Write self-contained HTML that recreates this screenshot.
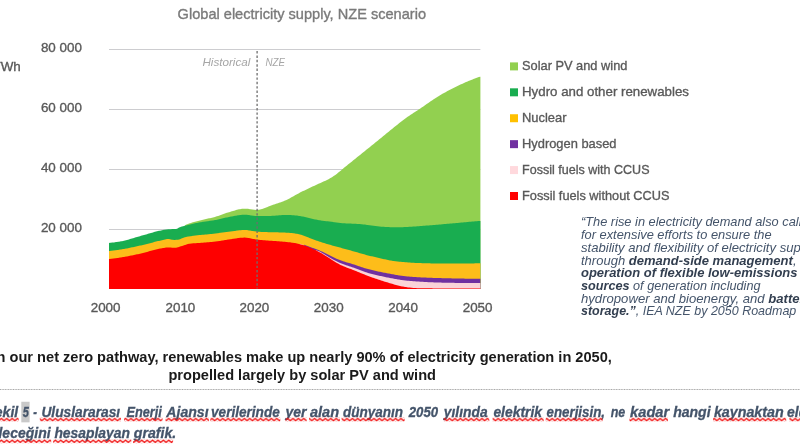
<!DOCTYPE html>
<html><head><meta charset="utf-8">
<style>
html,body{margin:0;padding:0;background:#fff;width:800px;height:445px;overflow:hidden;}
svg{display:block;filter:blur(0.55px);}
text{font-family:"Liberation Sans",sans-serif;}
</style></head>
<body>
<svg width="800" height="445" viewBox="0 0 800 445">
<defs>
<pattern id="wave" x="0" y="417.5" width="5.4" height="4" patternUnits="userSpaceOnUse">
<path d="M-1.35,3.2 L1.35,0.9 L4.05,3.2 L6.75,0.9" fill="none" stroke="#f01010" stroke-width="1.4"/>
</pattern>
<pattern id="wave2" x="0" y="439.25" width="5.4" height="4" patternUnits="userSpaceOnUse">
<path d="M-1.35,3.2 L1.35,0.9 L4.05,3.2 L6.75,0.9" fill="none" stroke="#f01010" stroke-width="1.4"/>
</pattern>
</defs>
<!-- title -->
<text x="177.6" y="19.2" font-size="14.5" fill="#7a7a7a" stroke="#7a7a7a" stroke-width="0.35" textLength="248.4" lengthAdjust="spacingAndGlyphs">Global electricity supply, NZE scenario</text>
<!-- y axis labels -->
<g font-size="13.4" fill="#595959" stroke="#595959" stroke-width="0.35" text-anchor="end">
<text x="81.9" y="52.3">80 000</text>
<text x="81.9" y="112.2">60 000</text>
<text x="81.9" y="172.2">40 000</text>
<text x="81.9" y="232.1">20 000</text>
</g>
<text x="-7.5" y="71.1" font-size="13.4" fill="#595959" stroke="#595959" stroke-width="0.35">TWh</text>
<!-- grid -->
<g stroke="#cdcdd0" stroke-width="1">
<line x1="109" y1="49.5" x2="480.4" y2="49.5"/>
<line x1="109" y1="109.5" x2="480.4" y2="109.5"/>
<line x1="109" y1="169.5" x2="480.4" y2="169.5"/>
<line x1="109" y1="229.5" x2="480.4" y2="229.5"/>
</g>
<path d="M109.0,244.40 L110.0,244.32 L111.0,244.22 L112.0,244.12 L113.0,244.01 L114.0,243.89 L115.0,243.76 L116.0,243.62 L117.0,243.47 L118.0,243.32 L119.0,243.16 L120.0,243.00 L121.0,242.82 L122.0,242.63 L123.0,242.42 L124.0,242.19 L125.0,241.95 L126.0,241.70 L127.0,241.43 L128.0,241.16 L129.0,240.88 L130.0,240.59 L131.0,240.29 L132.0,240.00 L133.0,239.69 L134.0,239.39 L135.0,239.09 L136.0,238.79 L137.0,238.49 L138.0,238.20 L139.0,237.92 L140.0,237.64 L141.0,237.36 L142.0,237.09 L143.0,236.80 L144.0,236.51 L145.0,236.22 L146.0,235.93 L147.0,235.63 L148.0,235.33 L149.0,235.04 L150.0,234.74 L151.0,234.45 L152.0,234.16 L153.0,233.88 L154.0,233.60 L155.0,233.33 L156.0,233.07 L157.0,232.82 L158.0,232.58 L159.0,232.36 L160.0,232.14 L161.0,231.94 L162.0,231.74 L163.0,231.54 L164.0,231.35 L165.0,231.18 L166.0,231.02 L167.0,230.90 L168.0,230.80 L169.0,230.73 L170.0,230.69 L171.0,230.65 L172.0,230.62 L173.0,230.59 L174.0,230.55 L175.0,230.48 L176.0,230.40 L177.0,230.13 L178.0,229.63 L179.0,229.10 L180.0,228.70 L181.0,228.37 L182.0,228.07 L183.0,227.79 L184.0,227.52 L185.0,225.27 L186.0,224.77 L187.0,224.31 L188.0,223.93 L189.0,223.58 L190.0,223.24 L191.0,222.92 L192.0,222.60 L193.0,222.30 L194.0,222.00 L195.0,221.72 L196.0,221.44 L197.0,221.17 L198.0,220.91 L199.0,220.65 L200.0,220.40 L201.0,220.15 L202.0,219.91 L203.0,219.68 L204.0,219.45 L205.0,219.23 L206.0,219.01 L207.0,218.79 L208.0,218.58 L209.0,218.36 L210.0,218.13 L211.0,217.91 L212.0,217.67 L213.0,217.42 L214.0,217.17 L215.0,216.90 L216.0,216.61 L217.0,216.30 L218.0,215.98 L219.0,215.63 L220.0,215.28 L221.0,214.92 L222.0,214.55 L223.0,214.19 L224.0,213.82 L225.0,213.47 L226.0,213.12 L227.0,212.78 L228.0,212.46 L229.0,212.16 L230.0,211.88 L231.0,211.59 L232.0,211.29 L233.0,210.99 L234.0,210.69 L235.0,210.39 L236.0,210.10 L237.0,209.82 L238.0,209.57 L239.0,209.33 L240.0,209.13 L241.0,208.96 L242.0,208.82 L243.0,208.73 L244.0,208.68 L245.0,208.66 L246.0,208.69 L247.0,208.76 L248.0,208.87 L249.0,209.01 L250.0,209.16 L251.0,209.31 L252.0,209.47 L253.0,209.62 L254.0,209.74 L255.0,209.84 L256.0,209.89 L257.0,209.90 L258.0,209.86 L259.0,209.72 L260.0,209.51 L261.0,209.25 L262.0,209.00 L263.0,208.72 L264.0,208.37 L265.0,207.98 L266.0,207.57 L267.0,207.14 L268.0,206.72 L269.0,206.31 L270.0,205.92 L271.0,205.55 L272.0,205.19 L273.0,204.85 L274.0,204.51 L275.0,204.18 L276.0,203.84 L277.0,203.51 L278.0,203.18 L279.0,202.84 L280.0,202.50 L281.0,202.14 L282.0,201.77 L283.0,201.39 L284.0,200.99 L285.0,200.57 L286.0,200.13 L287.0,199.66 L288.0,199.17 L289.0,198.66 L290.0,198.13 L291.0,197.58 L292.0,197.03 L293.0,196.46 L294.0,195.90 L295.0,195.33 L296.0,194.77 L297.0,194.21 L298.0,193.67 L299.0,193.13 L300.0,192.61 L301.0,192.11 L302.0,191.61 L303.0,191.12 L304.0,190.63 L305.0,190.15 L306.0,189.67 L307.0,189.19 L308.0,188.71 L309.0,188.24 L310.0,187.77 L311.0,187.30 L312.0,186.82 L313.0,186.35 L314.0,185.88 L315.0,185.41 L316.0,184.94 L317.0,184.48 L318.0,184.03 L319.0,183.58 L320.0,183.14 L321.0,182.70 L322.0,182.26 L323.0,181.82 L324.0,181.37 L325.0,180.91 L326.0,180.43 L327.0,179.95 L328.0,179.44 L329.0,178.92 L330.0,178.37 L331.0,177.80 L332.0,177.19 L333.0,176.55 L334.0,175.87 L335.0,175.16 L336.0,174.42 L337.0,173.65 L338.0,172.85 L339.0,172.04 L340.0,171.22 L341.0,170.38 L342.0,169.54 L343.0,168.70 L344.0,167.87 L345.0,167.04 L346.0,166.22 L347.0,165.41 L348.0,164.61 L349.0,163.81 L350.0,163.01 L351.0,162.20 L352.0,161.40 L353.0,160.60 L354.0,159.79 L355.0,158.98 L356.0,158.18 L357.0,157.37 L358.0,156.56 L359.0,155.75 L360.0,154.94 L361.0,154.13 L362.0,153.33 L363.0,152.52 L364.0,151.71 L365.0,150.91 L366.0,150.10 L367.0,149.30 L368.0,148.49 L369.0,147.68 L370.0,146.88 L371.0,146.07 L372.0,145.26 L373.0,144.46 L374.0,143.65 L375.0,142.84 L376.0,142.03 L377.0,141.22 L378.0,140.41 L379.0,139.60 L380.0,138.78 L381.0,137.96 L382.0,137.14 L383.0,136.32 L384.0,135.50 L385.0,134.67 L386.0,133.85 L387.0,133.03 L388.0,132.20 L389.0,131.38 L390.0,130.57 L391.0,129.75 L392.0,128.95 L393.0,128.14 L394.0,127.34 L395.0,126.55 L396.0,125.75 L397.0,124.96 L398.0,124.16 L399.0,123.37 L400.0,122.59 L401.0,121.81 L402.0,121.04 L403.0,120.27 L404.0,119.51 L405.0,118.77 L406.0,118.04 L407.0,117.32 L408.0,116.61 L409.0,115.92 L410.0,115.23 L411.0,114.56 L412.0,113.90 L413.0,113.24 L414.0,112.59 L415.0,111.94 L416.0,111.29 L417.0,110.64 L418.0,109.98 L419.0,109.32 L420.0,108.66 L421.0,107.99 L422.0,107.31 L423.0,106.63 L424.0,105.95 L425.0,105.26 L426.0,104.57 L427.0,103.87 L428.0,103.18 L429.0,102.49 L430.0,101.81 L431.0,101.12 L432.0,100.44 L433.0,99.77 L434.0,99.10 L435.0,98.44 L436.0,97.79 L437.0,97.15 L438.0,96.52 L439.0,95.90 L440.0,95.30 L441.0,94.70 L442.0,94.12 L443.0,93.55 L444.0,92.99 L445.0,92.43 L446.0,91.88 L447.0,91.33 L448.0,90.79 L449.0,90.26 L450.0,89.73 L451.0,89.21 L452.0,88.70 L453.0,88.19 L454.0,87.69 L455.0,87.19 L456.0,86.70 L457.0,86.21 L458.0,85.73 L459.0,85.26 L460.0,84.79 L461.0,84.33 L462.0,83.88 L463.0,83.43 L464.0,82.99 L465.0,82.55 L466.0,82.11 L467.0,81.69 L468.0,81.27 L469.0,80.85 L470.0,80.44 L471.0,80.03 L472.0,79.63 L473.0,79.24 L474.0,78.85 L475.0,78.47 L476.0,78.09 L477.0,77.72 L478.0,77.37 L479.0,77.05 L480.0,76.79 L480.4,76.63 L480.4,289.0 L109.0,289.0Z" fill="#92d050"/>
<path d="M109.0,242.90 L110.0,242.82 L111.0,242.72 L112.0,242.62 L113.0,242.51 L114.0,242.39 L115.0,242.26 L116.0,242.12 L117.0,241.97 L118.0,241.82 L119.0,241.66 L120.0,241.50 L121.0,241.32 L122.0,241.13 L123.0,240.92 L124.0,240.69 L125.0,240.45 L126.0,240.20 L127.0,239.93 L128.0,239.66 L129.0,239.38 L130.0,239.09 L131.0,238.79 L132.0,238.50 L133.0,238.19 L134.0,237.89 L135.0,237.59 L136.0,237.29 L137.0,236.99 L138.0,236.70 L139.0,236.42 L140.0,236.14 L141.0,235.86 L142.0,235.59 L143.0,235.30 L144.0,235.01 L145.0,234.72 L146.0,234.43 L147.0,234.13 L148.0,233.83 L149.0,233.54 L150.0,233.24 L151.0,232.95 L152.0,232.66 L153.0,232.38 L154.0,232.10 L155.0,231.83 L156.0,231.57 L157.0,231.32 L158.0,231.08 L159.0,230.86 L160.0,230.64 L161.0,230.44 L162.0,230.24 L163.0,230.04 L164.0,229.85 L165.0,229.68 L166.0,229.52 L167.0,229.40 L168.0,229.30 L169.0,229.23 L170.0,229.19 L171.0,229.15 L172.0,229.12 L173.0,229.09 L174.0,229.05 L175.0,228.98 L176.0,228.90 L177.0,228.63 L178.0,228.13 L179.0,227.60 L180.0,227.20 L181.0,226.87 L182.0,226.57 L183.0,226.29 L184.0,226.02 L185.0,225.76 L186.0,225.50 L187.0,225.24 L188.0,224.99 L189.0,224.74 L190.0,224.49 L191.0,224.24 L192.0,224.00 L193.0,223.76 L194.0,223.53 L195.0,223.31 L196.0,223.09 L197.0,222.88 L198.0,222.68 L199.0,222.48 L200.0,222.30 L201.0,222.13 L202.0,221.96 L203.0,221.81 L204.0,221.67 L205.0,221.53 L206.0,221.39 L207.0,221.26 L208.0,221.13 L209.0,221.00 L210.0,220.86 L211.0,220.72 L212.0,220.58 L213.0,220.43 L214.0,220.27 L215.0,220.10 L216.0,219.92 L217.0,219.72 L218.0,219.50 L219.0,219.28 L220.0,219.05 L221.0,218.81 L222.0,218.57 L223.0,218.32 L224.0,218.08 L225.0,217.85 L226.0,217.61 L227.0,217.39 L228.0,217.18 L229.0,216.98 L230.0,216.80 L231.0,216.62 L232.0,216.43 L233.0,216.24 L234.0,216.05 L235.0,215.85 L236.0,215.67 L237.0,215.49 L238.0,215.32 L239.0,215.16 L240.0,215.02 L241.0,214.90 L242.0,214.81 L243.0,214.74 L244.0,214.71 L245.0,214.70 L246.0,214.75 L247.0,214.83 L248.0,214.95 L249.0,215.09 L250.0,215.25 L251.0,215.42 L252.0,215.58 L253.0,215.74 L254.0,215.87 L255.0,215.99 L256.0,216.06 L257.0,216.10 L258.0,216.10 L259.0,216.10 L260.0,216.09 L261.0,216.09 L262.0,216.08 L263.0,216.08 L264.0,216.07 L265.0,216.06 L266.0,216.04 L267.0,216.03 L268.0,216.01 L269.0,215.98 L270.0,215.95 L271.0,215.91 L272.0,215.85 L273.0,215.78 L274.0,215.70 L275.0,215.63 L276.0,215.55 L277.0,215.47 L278.0,215.38 L279.0,215.30 L280.0,215.22 L281.0,215.14 L282.0,215.08 L283.0,215.02 L284.0,214.98 L285.0,214.95 L286.0,214.93 L287.0,214.93 L288.0,214.95 L289.0,214.98 L290.0,215.02 L291.0,215.07 L292.0,215.14 L293.0,215.21 L294.0,215.30 L295.0,215.39 L296.0,215.50 L297.0,215.61 L298.0,215.74 L299.0,215.88 L300.0,216.03 L301.0,216.20 L302.0,216.38 L303.0,216.57 L304.0,216.78 L305.0,217.00 L306.0,217.23 L307.0,217.46 L308.0,217.70 L309.0,217.95 L310.0,218.19 L311.0,218.44 L312.0,218.69 L313.0,218.93 L314.0,219.16 L315.0,219.39 L316.0,219.61 L317.0,219.82 L318.0,220.02 L319.0,220.20 L320.0,220.37 L321.0,220.53 L322.0,220.67 L323.0,220.80 L324.0,220.91 L325.0,221.03 L326.0,221.13 L327.0,221.24 L328.0,221.35 L329.0,221.46 L330.0,221.58 L331.0,221.71 L332.0,221.84 L333.0,221.99 L334.0,222.13 L335.0,222.28 L336.0,222.43 L337.0,222.57 L338.0,222.71 L339.0,222.84 L340.0,222.95 L341.0,223.06 L342.0,223.15 L343.0,223.22 L344.0,223.29 L345.0,223.35 L346.0,223.40 L347.0,223.44 L348.0,223.49 L349.0,223.53 L350.0,223.57 L351.0,223.61 L352.0,223.65 L353.0,223.70 L354.0,223.74 L355.0,223.79 L356.0,223.84 L357.0,223.90 L358.0,223.96 L359.0,224.03 L360.0,224.11 L361.0,224.19 L362.0,224.29 L363.0,224.39 L364.0,224.50 L365.0,224.62 L366.0,224.75 L367.0,224.88 L368.0,225.02 L369.0,225.15 L370.0,225.29 L371.0,225.43 L372.0,225.57 L373.0,225.71 L374.0,225.84 L375.0,225.97 L376.0,226.10 L377.0,226.22 L378.0,226.33 L379.0,226.44 L380.0,226.54 L381.0,226.63 L382.0,226.71 L383.0,226.79 L384.0,226.86 L385.0,226.93 L386.0,226.99 L387.0,227.04 L388.0,227.08 L389.0,227.12 L390.0,227.15 L391.0,227.18 L392.0,227.21 L393.0,227.22 L394.0,227.24 L395.0,227.25 L396.0,227.26 L397.0,227.26 L398.0,227.26 L399.0,227.25 L400.0,227.24 L401.0,227.22 L402.0,227.19 L403.0,227.16 L404.0,227.12 L405.0,227.08 L406.0,227.03 L407.0,226.98 L408.0,226.92 L409.0,226.86 L410.0,226.80 L411.0,226.73 L412.0,226.67 L413.0,226.60 L414.0,226.53 L415.0,226.46 L416.0,226.39 L417.0,226.32 L418.0,226.25 L419.0,226.17 L420.0,226.09 L421.0,226.02 L422.0,225.94 L423.0,225.86 L424.0,225.78 L425.0,225.70 L426.0,225.62 L427.0,225.54 L428.0,225.46 L429.0,225.38 L430.0,225.30 L431.0,225.22 L432.0,225.14 L433.0,225.05 L434.0,224.97 L435.0,224.89 L436.0,224.80 L437.0,224.72 L438.0,224.64 L439.0,224.55 L440.0,224.47 L441.0,224.38 L442.0,224.30 L443.0,224.21 L444.0,224.12 L445.0,224.03 L446.0,223.95 L447.0,223.86 L448.0,223.77 L449.0,223.68 L450.0,223.59 L451.0,223.51 L452.0,223.42 L453.0,223.33 L454.0,223.24 L455.0,223.15 L456.0,223.06 L457.0,222.97 L458.0,222.88 L459.0,222.79 L460.0,222.70 L461.0,222.61 L462.0,222.52 L463.0,222.43 L464.0,222.33 L465.0,222.24 L466.0,222.15 L467.0,222.06 L468.0,221.97 L469.0,221.87 L470.0,221.78 L471.0,221.69 L472.0,221.60 L473.0,221.51 L474.0,221.42 L475.0,221.33 L476.0,221.24 L477.0,221.16 L478.0,221.09 L479.0,221.03 L480.0,220.97 L480.4,220.93 L480.4,289.0 L109.0,289.0Z" fill="#19ad50"/>
<path d="M109.0,251.00 L110.0,250.90 L111.0,250.79 L112.0,250.67 L113.0,250.56 L114.0,250.43 L115.0,250.30 L116.0,250.17 L117.0,250.04 L118.0,249.90 L119.0,249.75 L120.0,249.60 L121.0,249.44 L122.0,249.28 L123.0,249.11 L124.0,248.94 L125.0,248.76 L126.0,248.57 L127.0,248.38 L128.0,248.18 L129.0,247.98 L130.0,247.78 L131.0,247.57 L132.0,247.36 L133.0,247.15 L134.0,246.93 L135.0,246.71 L136.0,246.50 L137.0,246.27 L138.0,246.05 L139.0,245.83 L140.0,245.61 L141.0,245.39 L142.0,245.16 L143.0,244.92 L144.0,244.68 L145.0,244.44 L146.0,244.19 L147.0,243.93 L148.0,243.68 L149.0,243.42 L150.0,243.16 L151.0,242.90 L152.0,242.64 L153.0,242.38 L154.0,242.12 L155.0,241.86 L156.0,241.61 L157.0,241.37 L158.0,241.12 L159.0,240.89 L160.0,240.66 L161.0,240.43 L162.0,240.18 L163.0,239.91 L164.0,239.64 L165.0,239.39 L166.0,239.19 L167.0,239.05 L168.0,239.00 L169.0,239.06 L170.0,239.21 L171.0,239.42 L172.0,239.63 L173.0,239.80 L174.0,239.89 L175.0,239.89 L176.0,239.85 L177.0,239.80 L178.0,239.68 L179.0,239.45 L180.0,239.13 L181.0,238.76 L182.0,238.36 L183.0,237.96 L184.0,237.58 L185.0,237.25 L186.0,237.00 L187.0,236.80 L188.0,236.62 L189.0,236.45 L190.0,236.28 L191.0,236.13 L192.0,235.98 L193.0,235.84 L194.0,235.71 L195.0,235.58 L196.0,235.45 L197.0,235.34 L198.0,235.22 L199.0,235.11 L200.0,235.00 L201.0,234.90 L202.0,234.80 L203.0,234.71 L204.0,234.63 L205.0,234.54 L206.0,234.46 L207.0,234.38 L208.0,234.29 L209.0,234.20 L210.0,234.10 L211.0,233.99 L212.0,233.88 L213.0,233.77 L214.0,233.65 L215.0,233.52 L216.0,233.40 L217.0,233.27 L218.0,233.13 L219.0,233.00 L220.0,232.86 L221.0,232.73 L222.0,232.59 L223.0,232.46 L224.0,232.32 L225.0,232.19 L226.0,232.06 L227.0,231.93 L228.0,231.80 L229.0,231.68 L230.0,231.56 L231.0,231.44 L232.0,231.31 L233.0,231.18 L234.0,231.04 L235.0,230.90 L236.0,230.76 L237.0,230.62 L238.0,230.49 L239.0,230.37 L240.0,230.26 L241.0,230.16 L242.0,230.09 L243.0,230.04 L244.0,230.01 L245.0,230.00 L246.0,230.04 L247.0,230.12 L248.0,230.24 L249.0,230.38 L250.0,230.53 L251.0,230.70 L252.0,230.88 L253.0,231.05 L254.0,231.22 L255.0,231.37 L256.0,231.50 L257.0,231.60 L258.0,231.68 L259.0,231.76 L260.0,231.84 L261.0,231.90 L262.0,231.96 L263.0,232.00 L264.0,232.03 L265.0,232.06 L266.0,232.09 L267.0,232.11 L268.0,232.14 L269.0,232.16 L270.0,232.18 L271.0,232.20 L272.0,232.22 L273.0,232.24 L274.0,232.27 L275.0,232.29 L276.0,232.31 L277.0,232.33 L278.0,232.36 L279.0,232.39 L280.0,232.41 L281.0,232.44 L282.0,232.48 L283.0,232.51 L284.0,232.55 L285.0,232.59 L286.0,232.64 L287.0,232.69 L288.0,232.75 L289.0,232.82 L290.0,232.90 L291.0,233.00 L292.0,233.10 L293.0,233.22 L294.0,233.36 L295.0,233.51 L296.0,233.68 L297.0,233.87 L298.0,234.08 L299.0,234.30 L300.0,234.55 L301.0,234.82 L302.0,235.11 L303.0,235.43 L304.0,235.77 L305.0,236.13 L306.0,236.52 L307.0,236.91 L308.0,237.32 L309.0,237.73 L310.0,238.14 L311.0,238.55 L312.0,238.94 L313.0,239.33 L314.0,239.70 L315.0,240.06 L316.0,240.42 L317.0,240.76 L318.0,241.10 L319.0,241.43 L320.0,241.76 L321.0,242.08 L322.0,242.40 L323.0,242.71 L324.0,243.03 L325.0,243.33 L326.0,243.64 L327.0,243.94 L328.0,244.24 L329.0,244.53 L330.0,244.83 L331.0,245.11 L332.0,245.40 L333.0,245.68 L334.0,245.96 L335.0,246.24 L336.0,246.51 L337.0,246.79 L338.0,247.06 L339.0,247.33 L340.0,247.60 L341.0,247.87 L342.0,248.15 L343.0,248.42 L344.0,248.69 L345.0,248.96 L346.0,249.24 L347.0,249.51 L348.0,249.79 L349.0,250.06 L350.0,250.34 L351.0,250.62 L352.0,250.90 L353.0,251.18 L354.0,251.47 L355.0,251.75 L356.0,252.04 L357.0,252.33 L358.0,252.62 L359.0,252.91 L360.0,253.21 L361.0,253.49 L362.0,253.78 L363.0,254.06 L364.0,254.34 L365.0,254.61 L366.0,254.88 L367.0,255.14 L368.0,255.40 L369.0,255.65 L370.0,255.90 L371.0,256.14 L372.0,256.37 L373.0,256.60 L374.0,256.84 L375.0,257.06 L376.0,257.29 L377.0,257.52 L378.0,257.75 L379.0,257.98 L380.0,258.21 L381.0,258.45 L382.0,258.68 L383.0,258.91 L384.0,259.15 L385.0,259.37 L386.0,259.59 L387.0,259.81 L388.0,260.01 L389.0,260.21 L390.0,260.39 L391.0,260.57 L392.0,260.73 L393.0,260.88 L394.0,261.02 L395.0,261.16 L396.0,261.29 L397.0,261.41 L398.0,261.53 L399.0,261.64 L400.0,261.74 L401.0,261.84 L402.0,261.94 L403.0,262.03 L404.0,262.12 L405.0,262.21 L406.0,262.29 L407.0,262.37 L408.0,262.45 L409.0,262.52 L410.0,262.59 L411.0,262.66 L412.0,262.72 L413.0,262.78 L414.0,262.83 L415.0,262.88 L416.0,262.93 L417.0,262.97 L418.0,263.02 L419.0,263.05 L420.0,263.09 L421.0,263.12 L422.0,263.16 L423.0,263.19 L424.0,263.22 L425.0,263.25 L426.0,263.27 L427.0,263.30 L428.0,263.32 L429.0,263.35 L430.0,263.37 L431.0,263.39 L432.0,263.41 L433.0,263.42 L434.0,263.44 L435.0,263.45 L436.0,263.46 L437.0,263.47 L438.0,263.48 L439.0,263.49 L440.0,263.49 L441.0,263.49 L442.0,263.50 L443.0,263.50 L444.0,263.50 L445.0,263.50 L446.0,263.50 L447.0,263.50 L448.0,263.50 L449.0,263.50 L450.0,263.50 L451.0,263.49 L452.0,263.49 L453.0,263.49 L454.0,263.49 L455.0,263.49 L456.0,263.49 L457.0,263.48 L458.0,263.48 L459.0,263.48 L460.0,263.47 L461.0,263.47 L462.0,263.46 L463.0,263.46 L464.0,263.45 L465.0,263.45 L466.0,263.44 L467.0,263.44 L468.0,263.43 L469.0,263.42 L470.0,263.41 L471.0,263.41 L472.0,263.40 L473.0,263.39 L474.0,263.38 L475.0,263.37 L476.0,263.36 L477.0,263.35 L478.0,263.34 L479.0,263.33 L480.0,263.32 L480.4,263.32 L480.4,289.0 L109.0,289.0Z" fill="#fdbd1a"/>
<path d="M109.0,260.60 L110.0,260.48 L111.0,260.36 L112.0,260.24 L113.0,260.11 L114.0,259.98 L115.0,259.84 L116.0,259.70 L117.0,259.56 L118.0,259.41 L119.0,259.26 L120.0,259.10 L121.0,258.94 L122.0,258.78 L123.0,258.61 L124.0,258.43 L125.0,258.25 L126.0,258.07 L127.0,257.89 L128.0,257.70 L129.0,257.51 L130.0,257.31 L131.0,257.11 L132.0,256.91 L133.0,256.70 L134.0,256.50 L135.0,256.29 L136.0,256.08 L137.0,255.86 L138.0,255.65 L139.0,255.43 L140.0,255.21 L141.0,254.99 L142.0,254.75 L143.0,254.51 L144.0,254.25 L145.0,253.99 L146.0,253.72 L147.0,253.44 L148.0,253.16 L149.0,252.87 L150.0,252.59 L151.0,252.31 L152.0,252.03 L153.0,251.76 L154.0,251.49 L155.0,251.23 L156.0,250.98 L157.0,250.75 L158.0,250.52 L159.0,250.32 L160.0,250.12 L161.0,249.95 L162.0,249.77 L163.0,249.58 L164.0,249.40 L165.0,249.24 L166.0,249.12 L167.0,249.03 L168.0,249.00 L169.0,249.02 L170.0,249.06 L171.0,249.12 L172.0,249.18 L173.0,249.24 L174.0,249.28 L175.0,249.30 L176.0,249.23 L177.0,249.03 L178.0,248.75 L179.0,248.42 L180.0,248.07 L181.0,247.74 L182.0,247.46 L183.0,247.16 L184.0,246.84 L185.0,246.51 L186.0,246.18 L187.0,245.87 L188.0,245.59 L189.0,245.35 L190.0,245.17 L191.0,245.04 L192.0,244.94 L193.0,244.86 L194.0,244.79 L195.0,244.72 L196.0,244.66 L197.0,244.60 L198.0,244.54 L199.0,244.47 L200.0,244.40 L201.0,244.32 L202.0,244.24 L203.0,244.17 L204.0,244.09 L205.0,244.01 L206.0,243.93 L207.0,243.85 L208.0,243.77 L209.0,243.68 L210.0,243.60 L211.0,243.50 L212.0,243.41 L213.0,243.31 L214.0,243.21 L215.0,243.10 L216.0,242.98 L217.0,242.85 L218.0,242.71 L219.0,242.56 L220.0,242.40 L221.0,242.24 L222.0,242.07 L223.0,241.90 L224.0,241.72 L225.0,241.55 L226.0,241.38 L227.0,241.22 L228.0,241.06 L229.0,240.91 L230.0,240.77 L231.0,240.63 L232.0,240.49 L233.0,240.35 L234.0,240.19 L235.0,240.04 L236.0,239.89 L237.0,239.75 L238.0,239.61 L239.0,239.48 L240.0,239.37 L241.0,239.27 L242.0,239.19 L243.0,239.14 L244.0,239.11 L245.0,239.10 L246.0,239.15 L247.0,239.25 L248.0,239.39 L249.0,239.56 L250.0,239.76 L251.0,239.97 L252.0,240.18 L253.0,240.40 L254.0,240.61 L255.0,240.80 L256.0,240.97 L257.0,241.10 L258.0,241.21 L259.0,241.31 L260.0,241.41 L261.0,241.51 L262.0,241.59 L263.0,241.68 L264.0,241.76 L265.0,241.84 L266.0,241.92 L267.0,241.99 L268.0,242.07 L269.0,242.14 L270.0,242.21 L271.0,242.28 L272.0,242.35 L273.0,242.42 L274.0,242.48 L275.0,242.55 L276.0,242.62 L277.0,242.69 L278.0,242.77 L279.0,242.84 L280.0,242.92 L281.0,242.99 L282.0,243.07 L283.0,243.16 L284.0,243.24 L285.0,243.33 L286.0,243.43 L287.0,243.53 L288.0,243.63 L289.0,243.75 L290.0,243.87 L291.0,243.99 L292.0,243.97 L293.0,244.11 L294.0,244.25 L295.0,244.40 L296.0,244.56 L297.0,244.73 L298.0,244.92 L299.0,245.13 L300.0,245.36 L301.0,245.62 L302.0,245.90 L303.0,246.22 L304.0,244.75 L305.0,245.06 L306.0,245.40 L307.0,245.76 L308.0,246.13 L309.0,246.50 L310.0,246.88 L311.0,247.26 L312.0,247.63 L313.0,248.00 L314.0,248.37 L315.0,248.73 L316.0,249.10 L317.0,249.48 L318.0,249.87 L319.0,250.27 L320.0,250.69 L321.0,251.13 L322.0,251.58 L323.0,252.05 L324.0,252.53 L325.0,253.02 L326.0,253.52 L327.0,254.03 L328.0,254.54 L329.0,255.05 L330.0,255.56 L331.0,256.06 L332.0,256.56 L333.0,257.05 L334.0,257.53 L335.0,258.00 L336.0,258.46 L337.0,258.90 L338.0,259.32 L339.0,259.73 L340.0,260.12 L341.0,260.49 L342.0,260.85 L343.0,261.19 L344.0,261.51 L345.0,261.83 L346.0,262.13 L347.0,262.43 L348.0,262.72 L349.0,263.02 L350.0,263.31 L351.0,263.61 L352.0,263.91 L353.0,264.23 L354.0,264.54 L355.0,264.87 L356.0,265.20 L357.0,265.54 L358.0,265.88 L359.0,266.22 L360.0,266.56 L361.0,266.90 L362.0,267.24 L363.0,267.57 L364.0,267.89 L365.0,268.20 L366.0,268.51 L367.0,268.80 L368.0,269.08 L369.0,269.35 L370.0,269.61 L371.0,269.87 L372.0,270.11 L373.0,270.35 L374.0,270.58 L375.0,270.81 L376.0,271.03 L377.0,271.24 L378.0,271.46 L379.0,271.67 L380.0,271.87 L381.0,272.08 L382.0,272.28 L383.0,272.48 L384.0,272.67 L385.0,272.86 L386.0,273.06 L387.0,273.24 L388.0,273.43 L389.0,273.62 L390.0,273.80 L391.0,273.99 L392.0,274.17 L393.0,274.36 L394.0,274.54 L395.0,274.72 L396.0,274.90 L397.0,275.07 L398.0,275.24 L399.0,275.40 L400.0,275.55 L401.0,275.70 L402.0,275.84 L403.0,275.97 L404.0,276.09 L405.0,276.21 L406.0,276.32 L407.0,276.42 L408.0,276.51 L409.0,276.60 L410.0,276.69 L411.0,276.77 L412.0,276.85 L413.0,276.92 L414.0,276.99 L415.0,277.06 L416.0,277.12 L417.0,277.18 L418.0,277.24 L419.0,277.29 L420.0,277.34 L421.0,277.39 L422.0,277.44 L423.0,277.49 L424.0,277.54 L425.0,277.58 L426.0,277.62 L427.0,277.67 L428.0,277.71 L429.0,277.74 L430.0,277.78 L431.0,277.82 L432.0,277.85 L433.0,277.89 L434.0,277.92 L435.0,277.95 L436.0,277.98 L437.0,278.01 L438.0,278.04 L439.0,278.07 L440.0,278.09 L441.0,278.12 L442.0,278.15 L443.0,278.17 L444.0,278.20 L445.0,278.22 L446.0,278.25 L447.0,278.27 L448.0,278.29 L449.0,278.32 L450.0,278.34 L451.0,278.36 L452.0,278.38 L453.0,278.41 L454.0,278.43 L455.0,278.45 L456.0,278.47 L457.0,278.49 L458.0,278.51 L459.0,278.53 L460.0,278.55 L461.0,278.57 L462.0,278.59 L463.0,278.60 L464.0,278.62 L465.0,278.64 L466.0,278.65 L467.0,278.67 L468.0,278.68 L469.0,278.70 L470.0,278.71 L471.0,278.72 L472.0,278.73 L473.0,278.74 L474.0,278.75 L475.0,278.76 L476.0,278.77 L477.0,278.77 L478.0,278.78 L479.0,278.79 L480.0,278.79 L480.4,278.79 L480.4,289.0 L109.0,289.0Z" fill="#7030a0"/>
<path d="M109.0,260.60 L110.0,260.48 L111.0,260.36 L112.0,260.24 L113.0,260.11 L114.0,259.98 L115.0,259.84 L116.0,259.70 L117.0,259.56 L118.0,259.41 L119.0,259.26 L120.0,259.10 L121.0,258.94 L122.0,258.78 L123.0,258.61 L124.0,258.43 L125.0,258.25 L126.0,258.07 L127.0,257.89 L128.0,257.70 L129.0,257.51 L130.0,257.31 L131.0,257.11 L132.0,256.91 L133.0,256.70 L134.0,256.50 L135.0,256.29 L136.0,256.08 L137.0,255.86 L138.0,255.65 L139.0,255.43 L140.0,255.21 L141.0,254.99 L142.0,254.75 L143.0,254.51 L144.0,254.25 L145.0,253.99 L146.0,253.72 L147.0,253.44 L148.0,253.16 L149.0,252.87 L150.0,252.59 L151.0,252.31 L152.0,252.03 L153.0,251.76 L154.0,251.49 L155.0,251.23 L156.0,250.98 L157.0,250.75 L158.0,250.52 L159.0,250.32 L160.0,250.12 L161.0,249.95 L162.0,249.77 L163.0,249.58 L164.0,249.40 L165.0,249.24 L166.0,249.12 L167.0,249.03 L168.0,249.00 L169.0,249.02 L170.0,249.06 L171.0,249.12 L172.0,249.18 L173.0,249.24 L174.0,249.28 L175.0,249.30 L176.0,249.23 L177.0,249.03 L178.0,248.75 L179.0,248.42 L180.0,248.07 L181.0,247.74 L182.0,247.46 L183.0,247.16 L184.0,246.84 L185.0,246.51 L186.0,246.18 L187.0,245.87 L188.0,245.59 L189.0,245.35 L190.0,245.17 L191.0,245.04 L192.0,244.94 L193.0,244.86 L194.0,244.79 L195.0,244.72 L196.0,244.66 L197.0,244.60 L198.0,244.54 L199.0,244.47 L200.0,244.40 L201.0,244.32 L202.0,244.24 L203.0,244.17 L204.0,244.09 L205.0,244.01 L206.0,243.93 L207.0,243.85 L208.0,243.77 L209.0,243.68 L210.0,243.60 L211.0,243.50 L212.0,243.41 L213.0,243.31 L214.0,243.21 L215.0,243.10 L216.0,242.98 L217.0,242.85 L218.0,242.71 L219.0,242.56 L220.0,242.40 L221.0,242.24 L222.0,242.07 L223.0,241.90 L224.0,241.72 L225.0,241.55 L226.0,241.38 L227.0,241.22 L228.0,241.06 L229.0,240.91 L230.0,240.77 L231.0,240.63 L232.0,240.49 L233.0,240.35 L234.0,240.19 L235.0,240.04 L236.0,239.89 L237.0,239.75 L238.0,239.61 L239.0,239.48 L240.0,239.37 L241.0,239.27 L242.0,239.19 L243.0,239.14 L244.0,239.11 L245.0,239.10 L246.0,239.15 L247.0,239.25 L248.0,239.39 L249.0,239.56 L250.0,239.76 L251.0,239.97 L252.0,240.18 L253.0,240.40 L254.0,240.61 L255.0,240.80 L256.0,240.97 L257.0,241.10 L258.0,241.21 L259.0,241.31 L260.0,241.41 L261.0,241.51 L262.0,241.59 L263.0,241.68 L264.0,241.76 L265.0,241.84 L266.0,241.92 L267.0,241.99 L268.0,242.07 L269.0,242.14 L270.0,242.21 L271.0,242.28 L272.0,242.35 L273.0,242.42 L274.0,242.48 L275.0,242.55 L276.0,242.62 L277.0,242.69 L278.0,242.77 L279.0,242.84 L280.0,242.92 L281.0,242.99 L282.0,243.07 L283.0,243.16 L284.0,243.24 L285.0,243.33 L286.0,243.43 L287.0,243.53 L288.0,243.63 L289.0,243.75 L290.0,243.87 L291.0,243.99 L292.0,244.13 L293.0,244.28 L294.0,244.44 L295.0,244.61 L296.0,244.79 L297.0,244.99 L298.0,245.20 L299.0,245.43 L300.0,243.86 L301.0,244.12 L302.0,244.40 L303.0,244.72 L304.0,245.07 L305.0,247.22 L306.0,247.58 L307.0,247.96 L308.0,248.35 L309.0,248.75 L310.0,249.16 L311.0,249.59 L312.0,250.02 L313.0,250.47 L314.0,250.92 L315.0,251.39 L316.0,250.04 L317.0,250.46 L318.0,250.89 L319.0,251.35 L320.0,251.83 L321.0,252.35 L322.0,252.89 L323.0,253.46 L324.0,254.05 L325.0,254.66 L326.0,255.28 L327.0,255.90 L328.0,256.53 L329.0,257.14 L330.0,257.75 L331.0,258.35 L332.0,258.93 L333.0,259.49 L334.0,260.04 L335.0,260.56 L336.0,261.07 L337.0,261.57 L338.0,262.04 L339.0,262.49 L340.0,262.92 L341.0,263.33 L342.0,263.73 L343.0,264.10 L344.0,264.47 L345.0,264.82 L346.0,265.16 L347.0,265.49 L348.0,265.83 L349.0,266.16 L350.0,266.49 L351.0,266.82 L352.0,267.16 L353.0,267.51 L354.0,267.87 L355.0,268.23 L356.0,268.60 L357.0,268.98 L358.0,269.36 L359.0,269.74 L360.0,270.12 L361.0,270.50 L362.0,270.87 L363.0,271.23 L364.0,271.59 L365.0,271.93 L366.0,272.26 L367.0,272.58 L368.0,272.88 L369.0,273.18 L370.0,273.46 L371.0,273.73 L372.0,273.99 L373.0,274.24 L374.0,274.49 L375.0,274.73 L376.0,274.97 L377.0,275.20 L378.0,275.43 L379.0,275.65 L380.0,275.88 L381.0,276.10 L382.0,276.32 L383.0,276.54 L384.0,276.75 L385.0,276.96 L386.0,277.17 L387.0,277.38 L388.0,277.58 L389.0,277.78 L390.0,277.98 L391.0,278.17 L392.0,278.37 L393.0,278.56 L394.0,278.74 L395.0,278.92 L396.0,279.10 L397.0,279.27 L398.0,279.44 L399.0,279.60 L400.0,279.76 L401.0,279.90 L402.0,280.04 L403.0,280.18 L404.0,280.30 L405.0,280.42 L406.0,280.54 L407.0,280.64 L408.0,280.74 L409.0,280.84 L410.0,280.94 L411.0,281.02 L412.0,281.11 L413.0,281.19 L414.0,281.27 L415.0,281.34 L416.0,281.41 L417.0,281.48 L418.0,281.55 L419.0,281.62 L420.0,281.68 L421.0,281.74 L422.0,281.80 L423.0,281.86 L424.0,281.92 L425.0,281.97 L426.0,282.03 L427.0,282.08 L428.0,282.13 L429.0,282.18 L430.0,282.23 L431.0,282.28 L432.0,282.32 L433.0,282.36 L434.0,282.40 L435.0,282.44 L436.0,282.47 L437.0,282.50 L438.0,282.53 L439.0,282.56 L440.0,282.59 L441.0,282.61 L442.0,282.63 L443.0,282.66 L444.0,282.68 L445.0,282.70 L446.0,282.72 L447.0,282.74 L448.0,282.76 L449.0,282.77 L450.0,282.79 L451.0,282.81 L452.0,282.83 L453.0,282.84 L454.0,282.86 L455.0,282.88 L456.0,282.89 L457.0,282.91 L458.0,282.92 L459.0,282.93 L460.0,282.95 L461.0,282.96 L462.0,282.97 L463.0,282.99 L464.0,283.00 L465.0,283.01 L466.0,283.02 L467.0,283.03 L468.0,283.04 L469.0,283.05 L470.0,283.05 L471.0,283.06 L472.0,283.07 L473.0,283.07 L474.0,283.08 L475.0,283.08 L476.0,283.09 L477.0,283.09 L478.0,283.09 L479.0,283.09 L480.0,283.10 L480.4,283.10 L480.4,289.0 L109.0,289.0Z" fill="#fbd3d8"/>
<path d="M109.0,259.10 L110.0,258.98 L111.0,258.86 L112.0,258.74 L113.0,258.61 L114.0,258.48 L115.0,258.34 L116.0,258.20 L117.0,258.06 L118.0,257.91 L119.0,257.76 L120.0,257.60 L121.0,257.44 L122.0,257.28 L123.0,257.11 L124.0,256.93 L125.0,256.75 L126.0,256.57 L127.0,256.39 L128.0,256.20 L129.0,256.01 L130.0,255.81 L131.0,255.61 L132.0,255.41 L133.0,255.20 L134.0,255.00 L135.0,254.79 L136.0,254.58 L137.0,254.36 L138.0,254.15 L139.0,253.93 L140.0,253.71 L141.0,253.49 L142.0,253.25 L143.0,253.01 L144.0,252.75 L145.0,252.49 L146.0,252.22 L147.0,251.94 L148.0,251.66 L149.0,251.37 L150.0,251.09 L151.0,250.81 L152.0,250.53 L153.0,250.26 L154.0,249.99 L155.0,249.73 L156.0,249.48 L157.0,249.25 L158.0,249.02 L159.0,248.82 L160.0,248.62 L161.0,248.45 L162.0,248.27 L163.0,248.08 L164.0,247.90 L165.0,247.74 L166.0,247.62 L167.0,247.53 L168.0,247.50 L169.0,247.52 L170.0,247.56 L171.0,247.62 L172.0,247.68 L173.0,247.74 L174.0,247.78 L175.0,247.80 L176.0,247.73 L177.0,247.53 L178.0,247.25 L179.0,246.92 L180.0,246.57 L181.0,246.24 L182.0,245.96 L183.0,245.66 L184.0,245.34 L185.0,245.01 L186.0,244.68 L187.0,244.37 L188.0,244.09 L189.0,243.85 L190.0,243.67 L191.0,243.54 L192.0,243.44 L193.0,243.36 L194.0,243.29 L195.0,243.22 L196.0,243.16 L197.0,243.10 L198.0,243.04 L199.0,242.97 L200.0,242.90 L201.0,242.82 L202.0,242.74 L203.0,242.67 L204.0,242.59 L205.0,242.51 L206.0,242.43 L207.0,242.35 L208.0,242.27 L209.0,242.18 L210.0,242.10 L211.0,242.00 L212.0,241.91 L213.0,241.81 L214.0,241.71 L215.0,241.60 L216.0,241.48 L217.0,241.35 L218.0,241.21 L219.0,241.06 L220.0,240.90 L221.0,240.74 L222.0,240.57 L223.0,240.40 L224.0,240.22 L225.0,240.05 L226.0,239.88 L227.0,239.72 L228.0,239.56 L229.0,239.41 L230.0,239.27 L231.0,239.13 L232.0,238.99 L233.0,238.85 L234.0,238.69 L235.0,238.54 L236.0,238.39 L237.0,238.25 L238.0,238.11 L239.0,237.98 L240.0,237.87 L241.0,237.77 L242.0,237.69 L243.0,237.64 L244.0,237.61 L245.0,237.60 L246.0,237.65 L247.0,237.75 L248.0,237.89 L249.0,238.06 L250.0,238.26 L251.0,238.47 L252.0,238.68 L253.0,238.90 L254.0,239.11 L255.0,239.30 L256.0,239.47 L257.0,239.60 L258.0,239.71 L259.0,239.81 L260.0,239.91 L261.0,240.01 L262.0,240.09 L263.0,240.18 L264.0,240.26 L265.0,240.34 L266.0,240.42 L267.0,240.49 L268.0,240.57 L269.0,240.64 L270.0,240.71 L271.0,240.78 L272.0,240.85 L273.0,240.92 L274.0,240.98 L275.0,241.05 L276.0,241.12 L277.0,241.19 L278.0,241.27 L279.0,241.34 L280.0,241.42 L281.0,241.49 L282.0,241.57 L283.0,241.66 L284.0,241.74 L285.0,241.83 L286.0,241.93 L287.0,242.03 L288.0,242.13 L289.0,242.25 L290.0,242.37 L291.0,242.49 L292.0,242.63 L293.0,242.78 L294.0,242.94 L295.0,243.11 L296.0,243.29 L297.0,243.49 L298.0,243.70 L299.0,243.93 L300.0,244.18 L301.0,244.45 L302.0,244.74 L303.0,245.04 L304.0,245.37 L305.0,245.72 L306.0,246.08 L307.0,246.46 L308.0,246.85 L309.0,247.25 L310.0,247.66 L311.0,248.09 L312.0,248.52 L313.0,248.97 L314.0,249.42 L315.0,249.89 L316.0,250.37 L317.0,250.87 L318.0,251.38 L319.0,251.91 L320.0,252.46 L321.0,253.02 L322.0,253.60 L323.0,254.19 L324.0,254.79 L325.0,255.41 L326.0,256.04 L327.0,256.68 L328.0,257.32 L329.0,257.97 L330.0,258.62 L331.0,259.27 L332.0,259.91 L333.0,260.56 L334.0,261.19 L335.0,261.82 L336.0,262.42 L337.0,263.01 L338.0,263.58 L339.0,264.12 L340.0,264.64 L341.0,265.13 L342.0,265.59 L343.0,266.03 L344.0,266.46 L345.0,266.86 L346.0,267.25 L347.0,267.63 L348.0,268.01 L349.0,268.38 L350.0,268.75 L351.0,269.12 L352.0,269.50 L353.0,269.88 L354.0,270.27 L355.0,270.67 L356.0,271.07 L357.0,271.48 L358.0,271.89 L359.0,272.30 L360.0,272.72 L361.0,273.13 L362.0,273.54 L363.0,273.95 L364.0,274.36 L365.0,274.76 L366.0,275.15 L367.0,275.54 L368.0,275.92 L369.0,276.30 L370.0,276.67 L371.0,277.03 L372.0,277.39 L373.0,277.75 L374.0,278.10 L375.0,278.44 L376.0,278.78 L377.0,279.12 L378.0,279.45 L379.0,279.78 L380.0,280.11 L381.0,280.43 L382.0,280.75 L383.0,281.07 L384.0,281.38 L385.0,281.69 L386.0,282.00 L387.0,282.30 L388.0,282.60 L389.0,282.90 L390.0,283.20 L391.0,283.50 L392.0,283.80 L393.0,284.09 L394.0,284.38 L395.0,284.67 L396.0,284.95 L397.0,285.22 L398.0,285.48 L399.0,285.73 L400.0,285.97 L401.0,286.19 L402.0,286.40 L403.0,286.59 L404.0,286.77 L405.0,286.94 L406.0,287.10 L407.0,287.24 L408.0,287.38 L409.0,287.50 L410.0,287.62 L411.0,287.72 L412.0,287.81 L413.0,287.90 L414.0,287.97 L415.0,288.03 L416.0,288.09 L417.0,288.13 L418.0,288.17 L419.0,288.20 L420.0,288.23 L421.0,288.25 L422.0,288.27 L423.0,288.28 L424.0,288.30 L425.0,288.31 L426.0,288.32 L427.0,288.33 L428.0,288.34 L429.0,288.35 L430.0,288.36 L431.0,288.36 L432.0,288.37 L433.0,288.38 L434.0,288.38 L435.0,288.38 L436.0,288.39 L437.0,288.39 L438.0,288.39 L439.0,288.40 L440.0,288.40 L441.0,288.40 L442.0,288.40 L443.0,288.40 L444.0,288.40 L445.0,288.40 L446.0,288.40 L447.0,288.40 L448.0,288.40 L449.0,288.40 L450.0,288.40 L451.0,288.40 L452.0,288.40 L453.0,288.40 L454.0,288.40 L455.0,288.40 L456.0,288.40 L457.0,288.40 L458.0,288.40 L459.0,288.40 L460.0,288.40 L461.0,288.40 L462.0,288.40 L463.0,288.40 L464.0,288.40 L465.0,288.40 L466.0,288.40 L467.0,288.40 L468.0,288.40 L469.0,288.40 L470.0,288.40 L471.0,288.40 L472.0,288.40 L473.0,288.40 L474.0,288.40 L475.0,288.40 L476.0,288.40 L477.0,288.40 L478.0,288.40 L479.0,288.40 L480.0,288.40 L480.4,288.40 L480.4,289.0 L109.0,289.0Z" fill="#fe0000"/>
<line x1="257.1" y1="49" x2="257.1" y2="288.6" stroke="#6e6e6e" stroke-width="1.3" stroke-dasharray="2.4 1.98" stroke-dashoffset="2.28"/>
<text x="202.4" y="65.8" font-size="11" font-style="italic" fill="#a6a6a6" textLength="48" lengthAdjust="spacingAndGlyphs">Historical</text>
<text x="265.4" y="65.8" font-size="11" font-style="italic" fill="#a6a6a6" textLength="19.5" lengthAdjust="spacingAndGlyphs">NZE</text>
<!-- x labels -->
<g font-size="13.4" fill="#595959" stroke="#595959" stroke-width="0.35" text-anchor="middle">
<text x="105.6" y="311.6">2000</text>
<text x="180.4" y="311.6">2010</text>
<text x="254.4" y="311.6">2020</text>
<text x="328.75" y="311.6">2030</text>
<text x="403.1" y="311.6">2040</text>
<text x="477.6" y="311.6">2050</text>
</g>
<!-- legend -->
<rect x="510" y="62.40" width="8" height="8" fill="#92d050"/>
<rect x="510" y="88.32" width="8" height="8" fill="#19ad50"/>
<rect x="510" y="114.24" width="8" height="8" fill="#ffc000"/>
<rect x="510" y="140.16" width="8" height="8" fill="#7030a0"/>
<rect x="510" y="166.08" width="8" height="8" fill="#ffd9dd"/>
<rect x="510" y="192.00" width="8" height="8" fill="#ff0000"/>
<g font-size="13.6" fill="#595959" stroke="#595959" stroke-width="0.35">
<text x="522" y="70.00" textLength="105.4" lengthAdjust="spacingAndGlyphs">Solar PV and wind</text>
<text x="522" y="95.92" textLength="167.0" lengthAdjust="spacingAndGlyphs">Hydro and other renewables</text>
<text x="522" y="121.84" textLength="44.5" lengthAdjust="spacingAndGlyphs">Nuclear</text>
<text x="522" y="147.76" textLength="94.5" lengthAdjust="spacingAndGlyphs">Hydrogen based</text>
<text x="522" y="173.68" textLength="127.5" lengthAdjust="spacingAndGlyphs">Fossil fuels with CCUS</text>
<text x="522" y="199.60" textLength="147.5" lengthAdjust="spacingAndGlyphs">Fossil fuels without CCUS</text>
</g>
<!-- quote -->
<g font-size="12.8" font-style="italic" fill="#44546a">
<text x="581" y="226">“The rise in electricity demand also calls</text>
<text x="581" y="238.9" textLength="190.6" lengthAdjust="spacingAndGlyphs">for extensive efforts to ensure the</text>
<text x="581" y="252" textLength="236.5" lengthAdjust="spacingAndGlyphs">stability and flexibility of electricity supply</text>
<text x="581" y="264.8" textLength="215.5" lengthAdjust="spacingAndGlyphs">through <tspan font-weight="bold" fill="#333f50">demand-side management</tspan>,</text>
<text x="581" y="277.2" font-weight="bold" fill="#333f50" textLength="216.5" lengthAdjust="spacingAndGlyphs">operation of flexible low-emissions</text>
<text x="581" y="290.2" textLength="179.5" lengthAdjust="spacingAndGlyphs"><tspan font-weight="bold" fill="#333f50">sources</tspan> of generation including</text>
<text x="581" y="303" textLength="231" lengthAdjust="spacingAndGlyphs">hydropower and bioenergy, and <tspan font-weight="bold" fill="#333f50">battery</tspan></text>
<text x="581" y="315" textLength="215.3" lengthAdjust="spacingAndGlyphs"><tspan font-weight="bold" fill="#333f50">storage.”</tspan>, IEA NZE by 2050 Roadmap</text>
</g>
<!-- heading -->
<g font-size="14.6" font-weight="bold" fill="#1a1a1a" text-anchor="middle">
<text x="302.2" y="362">In our net zero pathway, renewables make up nearly 90% of electricity generation in 2050,</text>
<text x="302.2" y="380.25">propelled largely by solar PV and wind</text>
</g>
<line x1="0" y1="389.5" x2="800" y2="389.5" stroke="#dcdcdc" stroke-width="1"/>
<line x1="0" y1="389.5" x2="800" y2="389.5" stroke="#a8a8a8" stroke-width="1" stroke-dasharray="1 1.6"/>
<!-- caption -->
<rect x="21.3" y="401.75" width="8.3" height="20.6" fill="#c9c9c9"/>
<g font-size="14" font-weight="bold" font-style="italic" fill="#44546a" stroke="#44546a" stroke-width="0.3">
<text x="18.2" y="416.75" text-anchor="end">Şekil</text>
<text x="22.75" y="416.75" textLength="6.1" lengthAdjust="spacingAndGlyphs">5</text>
<text x="33.3" y="416.75" textLength="3.7" lengthAdjust="spacingAndGlyphs">-</text>
<text x="41.4" y="416.75" textLength="78.8" lengthAdjust="spacingAndGlyphs">Uluslararası</text>
<text x="126.5" y="416.75" textLength="35.4" lengthAdjust="spacingAndGlyphs">Enerji</text>
<text x="166.3" y="416.75" textLength="42.3" lengthAdjust="spacingAndGlyphs">Ajansı</text>
<text x="211" y="416.75" textLength="68.8" lengthAdjust="spacingAndGlyphs">verilerinde</text>
<text x="285.5" y="416.75" textLength="21.1" lengthAdjust="spacingAndGlyphs">yer</text>
<text x="309.9" y="416.75" textLength="29.2" lengthAdjust="spacingAndGlyphs">alan</text>
<text x="343" y="416.75" textLength="60.1" lengthAdjust="spacingAndGlyphs">dünyanın</text>
<text x="408.8" y="416.75" textLength="29.3" lengthAdjust="spacingAndGlyphs">2050</text>
<text x="443.8" y="416.75" textLength="43.9" lengthAdjust="spacingAndGlyphs">yılında</text>
<text x="493.4" y="416.75" textLength="48.7" lengthAdjust="spacingAndGlyphs">elektrik</text>
<text x="546.5" y="416.75" textLength="58.5" lengthAdjust="spacingAndGlyphs">enerjisin,</text>
<text x="610.7" y="416.75" textLength="14.6" lengthAdjust="spacingAndGlyphs">ne</text>
<text x="630.1" y="416.75" textLength="39.1" lengthAdjust="spacingAndGlyphs">kadar</text>
<text x="673.2" y="416.75" textLength="37.4" lengthAdjust="spacingAndGlyphs">hangi</text>
<text x="713.9" y="416.75" textLength="69.8" lengthAdjust="spacingAndGlyphs">kaynaktan</text>
<text x="787" y="416.75">elde</text>
<text x="50.6" y="438.25" text-anchor="end">edeceğini</text>
<text x="54.4" y="438.25" textLength="75.6" lengthAdjust="spacingAndGlyphs">hesaplayan</text>
<text x="133.75" y="438.25" textLength="42.5" lengthAdjust="spacingAndGlyphs">grafik.</text>
</g>
<g fill="url(#wave)">
<rect x="0" y="417.5" width="18.7" height="4"/>
<rect x="39.8" y="417.5" width="81.2" height="4"/>
<rect x="124" y="417.5" width="38.6" height="4"/>
<rect x="165.5" y="417.5" width="43.5" height="4"/>
<rect x="210.2" y="417.5" width="70.1" height="4"/>
<rect x="285.5" y="417.5" width="21.1" height="4"/>
<rect x="309" y="417.5" width="31.0" height="4"/>
<rect x="341.6" y="417.5" width="63.1" height="4"/>
<rect x="443.8" y="417.5" width="45.5" height="4"/>
<rect x="492.6" y="417.5" width="51.1" height="4"/>
<rect x="545.7" y="417.5" width="56.9" height="4"/>
<rect x="629.4" y="417.5" width="38.6" height="4"/>
<rect x="713" y="417.5" width="73.2" height="4"/>
<rect x="789.4" y="417.5" width="10.6" height="4"/>
</g><g fill="url(#wave2)">
<rect x="0" y="439.25" width="51.2" height="4"/>
<rect x="53.1" y="439.25" width="78.2" height="4"/>
<rect x="133.1" y="439.25" width="40.0" height="4"/>
</g>
</svg>
</body></html>
